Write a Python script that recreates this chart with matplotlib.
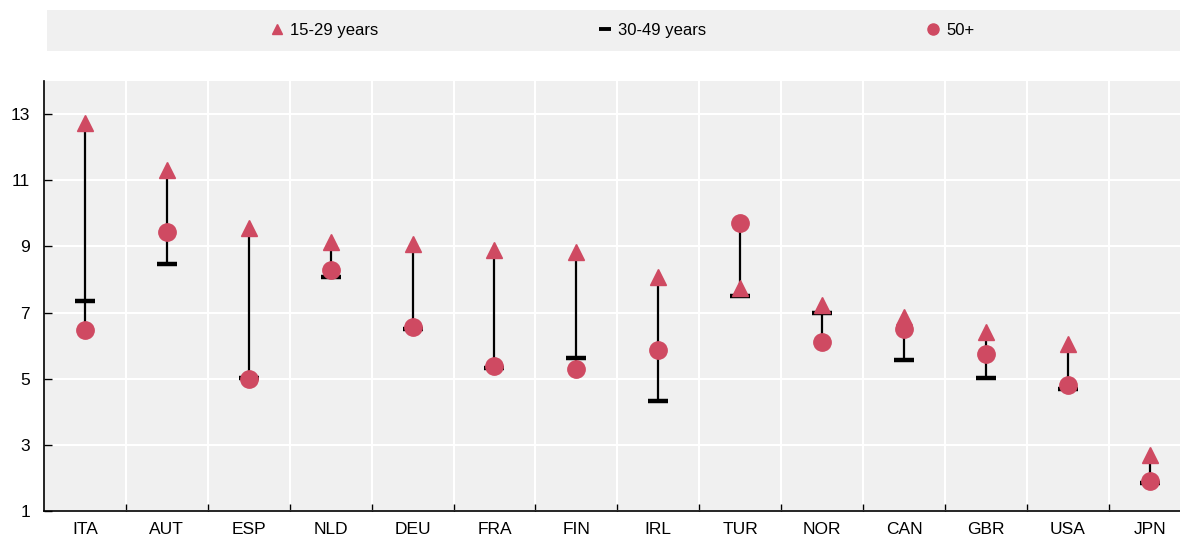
import numpy as np
import matplotlib.pyplot as plt
from matplotlib.lines import Line2D

plt.rcParams['font.family'] = ['Liberation Sans Narrow', 'Liberation Sans', 'DejaVu Sans']

countries = ['ITA', 'AUT', 'ESP', 'NLD', 'DEU', 'FRA', 'FIN', 'IRL', 'TUR', 'NOR', 'CAN', 'GBR', 'USA', 'JPN']
age_15_29 = [12.72, 11.31, 9.56, 9.13, 9.08, 8.89, 8.83, 8.08, 7.75, 7.23, 6.86, 6.42, 6.04, 2.70]
age_30_49 = [7.34, 8.46, 5.01, 8.08, 6.49, 5.31, 5.62, 4.32, 7.49, 6.98, 5.56, 5.01, 4.70, 1.85]
age_50_plus = [6.48, 9.44, 5.00, 8.28, 6.55, 5.38, 5.30, 5.87, 9.70, 6.12, 6.49, 5.75, 4.82, 1.91]

red = '#CF4A62'
bg = '#F0F0F0'

fig = plt.figure(figsize=(11.8, 5.37), dpi=100)
ax = fig.add_axes([0.0373, 0.0484, 0.9717, 0.8007])
ax.set_facecolor(bg)

x = np.arange(len(countries))
lo = np.minimum(np.minimum(age_15_29, age_30_49), age_50_plus)
hi = np.maximum(np.maximum(age_15_29, age_30_49), age_50_plus)
ax.vlines(x, lo, hi, color='black', lw=1.6, zorder=2)

ax.plot(x, age_30_49, ls='none', marker='_', ms=14, mew=3.2, color='black', zorder=3)
ax.plot(x, age_15_29, ls='none', marker='^', ms=11.5, color=red, mec=red, zorder=4)
ax.plot(x, age_50_plus, ls='none', marker='o', ms=12.5, color=red, mec=red, zorder=5)

ax.set_xlim(-0.5, len(countries) - 0.5)
ax.set_ylim(1, 14)
ax.set_yticks([1, 3, 5, 7, 9, 11, 13])
ax.set_xticks(x)
ax.set_xticklabels(countries)
ax.set_xticks(np.arange(0.5, len(countries) - 0.5, 1), minor=True)

ax.grid(axis='y', which='major', color='white', lw=1.5)
ax.grid(axis='x', which='minor', color='white', lw=1.5)
ax.set_axisbelow(True)

for s in ['top', 'right']:
    ax.spines[s].set_visible(False)
for s in ['left', 'bottom']:
    ax.spines[s].set_color('black')
    ax.spines[s].set_linewidth(1.2)

ax.tick_params(axis='y', direction='in', length=6, width=1, labelsize=12.5, pad=10)
ax.tick_params(axis='x', which='major', length=0, labelsize=12.5, pad=8)
ax.tick_params(axis='x', which='minor', direction='in', length=5, width=1)

# legend strip
lax = fig.add_axes([0.0398, 0.905, 0.9602, 0.0764])
lax.set_facecolor(bg)
lax.set_xticks([])
lax.set_yticks([])
for s in lax.spines.values():
    s.set_visible(False)

handles = [
    Line2D([], [], ls='none', marker='^', ms=7, color=red),
    Line2D([], [], ls='none', marker='_', ms=9, mew=2.8, color='black'),
    Line2D([], [], ls='none', marker='o', ms=8, color=red),
]
labels = ['15-29 years', '30-49 years', '50+']
lax.legend(handles, labels, loc='center', ncol=3, frameon=False, fontsize=12,
           handlelength=0.8, handletextpad=0.4, columnspacing=13.2,
           bbox_to_anchor=(0.508, 0.5))

fig.savefig('out.png', dpi=100)
